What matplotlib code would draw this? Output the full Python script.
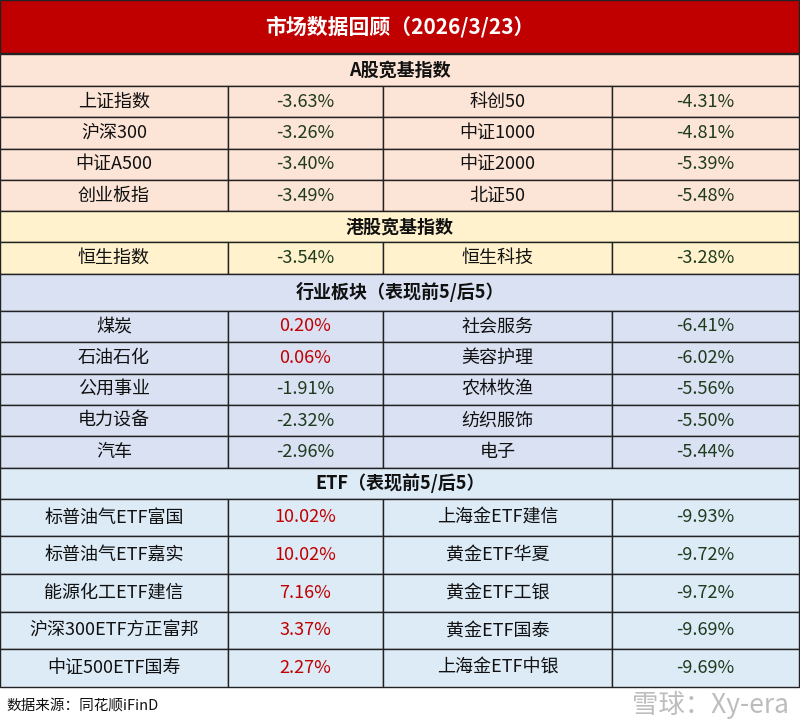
import matplotlib
matplotlib.use('Agg')
import matplotlib.pyplot as plt
from matplotlib.patches import Rectangle

plt.rcParams['font.family'] = ['Noto Sans CJK SC', 'DejaVu Sans']

title = '市场数据回顾（2026/3/23）'
# sections: header, left names, left values, right names, right values
a_hdr = 'A股宽基指数'
a_left = ['上证指数', '沪深300', '中证A500', '创业板指']
a_lval = [-3.63, -3.26, -3.40, -3.49]
a_right = ['科创50', '中证1000', '中证2000', '北证50']
a_rval = [-4.31, -4.81, -5.39, -5.48]

hk_hdr = '港股宽基指数'
hk_left = ['恒生指数']
hk_lval = [-3.54]
hk_right = ['恒生科技']
hk_rval = [-3.28]

ind_hdr = '行业板块（表现前5/后5）'
ind_left = ['煤炭', '石油石化', '公用事业', '电力设备', '汽车']
ind_lval = [0.20, 0.06, -1.91, -2.32, -2.96]
ind_right = ['社会服务', '美容护理', '农林牧渔', '纺织服饰', '电子']
ind_rval = [-6.41, -6.02, -5.56, -5.50, -5.44]

etf_hdr = 'ETF（表现前5/后5）'
etf_left = ['标普油气ETF富国', '标普油气ETF嘉实', '能源化工ETF建信', '沪深300ETF方正富邦', '中证500ETF国寿']
etf_lval = [10.02, 10.02, 7.16, 3.37, 2.27]
etf_right = ['上海金ETF建信', '黄金ETF华夏', '黄金ETF工银', '黄金ETF国泰', '上海金ETF中银']
etf_rval = [-9.93, -9.72, -9.72, -9.69, -9.69]

W, H = 800, 727
fig = plt.figure(figsize=(8, 7.27), dpi=100)
ax = fig.add_axes([0, 0, 1, 1])
ax.set_xlim(0, W)
ax.set_ylim(H, 0)
ax.axis('off')

cols = [0, 228, 383, 612, 799]
line_c = '#222222'

def rect(x0, y0, x1, y1, fc):
    ax.add_patch(Rectangle((x0, y0), x1 - x0, y1 - y0, facecolor=fc,
                           edgecolor=line_c, linewidth=1))

def fmt(v):
    return '%.2f%%' % v

def section(y, hdr, left, lval, right, rval, bg, hdr_h, row_h, fs):
    rect(0, y, cols[-1], y + hdr_h, bg)
    ax.text(W / 2, y + hdr_h / 2, hdr, ha='center', va='center', fontsize=13,
            fontweight='bold', color='#111111')
    y += hdr_h
    for i in range(len(left)):
        cells = [left[i], fmt(lval[i]), right[i], fmt(rval[i])]
        vals = [None, lval[i], None, rval[i]]
        for j in range(4):
            rect(cols[j], y, cols[j + 1], y + row_h, bg)
            c = '#111111'
            if vals[j] is not None:
                c = '#C00000' if vals[j] > 0 else '#1E3B1E'
            ax.text((cols[j] + cols[j + 1]) / 2, y + row_h / 2, cells[j],
                    ha='center', va='center', fontsize=fs, color=c)
        y += row_h
    return y

# title bar
rect(0, 0, cols[-1], 53, '#C00000')
ax.text(W / 2, 27, title, ha='center', va='center', fontsize=15,
        fontweight='bold', color='white')

y = 54
y = section(y, a_hdr, a_left, a_lval, a_right, a_rval, '#FCE4D6', 32, 31.3, 13)
y = section(y, hk_hdr, hk_left, hk_lval, hk_right, hk_rval, '#FFF2CC', 31, 31.5, 13)
y = section(y, ind_hdr, ind_left, ind_lval, ind_right, ind_rval, '#D9E1F2', 37, 31.4, 13)
y = section(y, etf_hdr, etf_left, etf_lval, etf_right, etf_rval, '#DDEBF7', 31, 37.6, 13)

ax.text(6, 707, '数据来源：同花顺iFinD', ha='left', va='center', fontsize=10.5, color='#111111')
ax.text(710, 705, '雪球：Xy-era', ha='center', va='center', fontsize=19, color='#BDBDBD')

fig.savefig('out.png', dpi=100)
